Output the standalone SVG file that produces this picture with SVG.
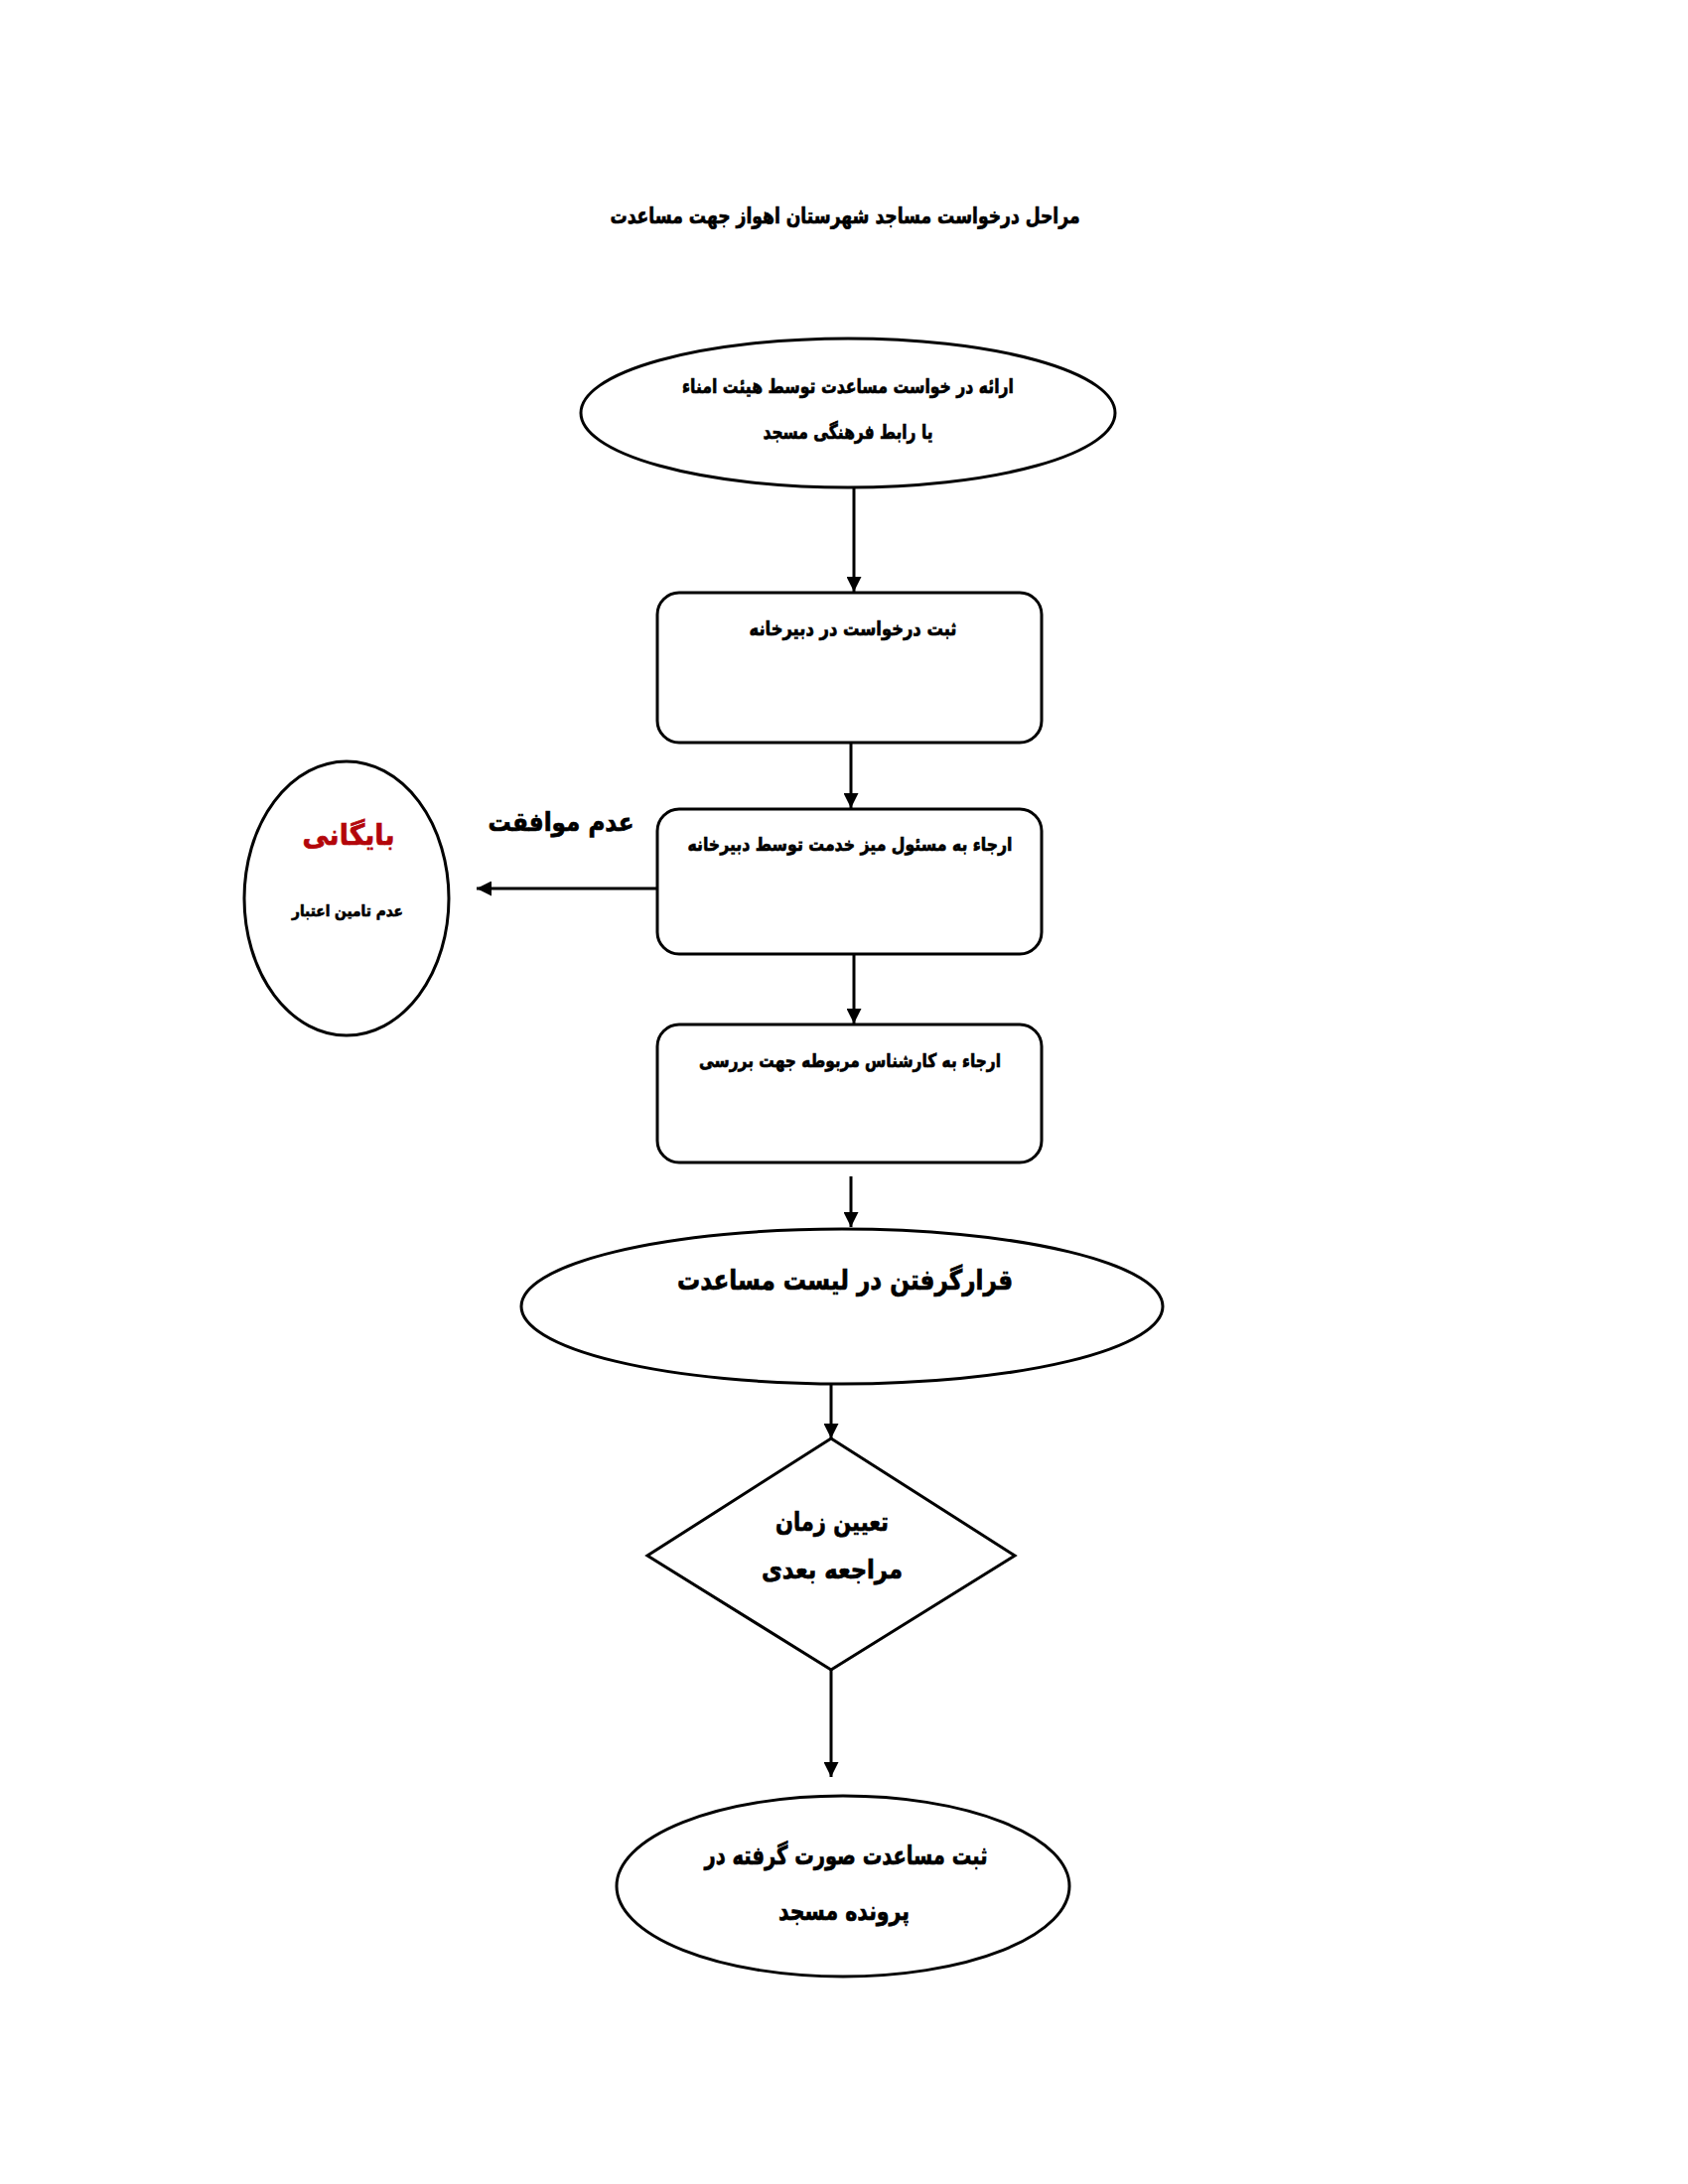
<svg xmlns="http://www.w3.org/2000/svg" width="1700" height="2200" viewBox="0 0 1700 2200">
<defs>
<marker id="arr" viewBox="0 0 10 10" refX="10" refY="5" markerWidth="5" markerHeight="5" orient="auto" markerUnits="strokeWidth">
<path d="M0,0 L10,5 L0,10 z" fill="#000"/>
</marker>
<style>
.shape{fill:#fff;stroke:#000;stroke-width:3}
.t{font-family:"DejaVu Sans",sans-serif;font-weight:bold;fill:#000;stroke:#000;stroke-width:0.7;text-anchor:middle}
.red{fill:#b3060a;stroke:#b3060a}
.conn line{stroke:#000;stroke-width:3;marker-end:url(#arr)}
</style>
</defs>
<rect width="1700" height="2200" fill="#fff"/>
<text class="t" x="851" y="225" font-size="22" direction="rtl" textLength="473" lengthAdjust="spacingAndGlyphs">مراحل درخواست مساجد  شهرستان اهواز جهت مساعدت</text>

<g id="connectors" class="conn">
<line x1="860" y1="491" x2="860" y2="596"/>
<line x1="857" y1="748" x2="857" y2="814"/>
<line x1="662" y1="895" x2="480" y2="895"/>
<line x1="860" y1="961" x2="860" y2="1031"/>
<line x1="857" y1="1185" x2="857" y2="1236"/>
<line x1="837" y1="1394" x2="837" y2="1449"/>
<line x1="837" y1="1682" x2="837" y2="1790"/>
</g>

<g id="n1">
<ellipse class="shape" cx="854" cy="416" rx="269" ry="75"/>
<text class="t" x="854" y="396" font-size="20" direction="rtl" textLength="334" lengthAdjust="spacingAndGlyphs">ارائه در خواست  مساعدت توسط هیئت امناء</text>
<text class="t" x="854" y="442" font-size="20" direction="rtl" textLength="171" lengthAdjust="spacingAndGlyphs">یا رابط فرهنگی مسجد</text>
</g>

<g id="n2">
<rect class="shape" x="662" y="597" width="387" height="151" rx="22"/>
<text class="t" x="859" y="640" font-size="20" direction="rtl" textLength="209" lengthAdjust="spacingAndGlyphs">ثبت درخواست در دبیرخانه</text>
</g>

<g id="n3">
<rect class="shape" x="662" y="815" width="387" height="146" rx="22"/>
<text class="t" x="856" y="857" font-size="19" direction="rtl" textLength="327" lengthAdjust="spacingAndGlyphs">ارجاء به مسئول میز خدمت توسط دبیرخانه</text>
</g>

<g id="label-reject">
<text class="t" x="565" y="837" font-size="26" direction="rtl" textLength="147" lengthAdjust="spacingAndGlyphs">عدم موافقت</text>
</g>

<g id="n-archive">
<ellipse class="shape" cx="349" cy="905" rx="103" ry="138"/>
<text class="t red" x="351" y="851" font-size="29" direction="rtl" textLength="93" lengthAdjust="spacingAndGlyphs">بایگانی</text>
<text class="t" x="350" y="923" font-size="16" direction="rtl" textLength="112" lengthAdjust="spacingAndGlyphs">عدم تامین اعتبار</text>
</g>

<g id="n4">
<rect class="shape" x="662" y="1032" width="387" height="139" rx="22"/>
<text class="t" x="856" y="1075" font-size="19" direction="rtl" textLength="304" lengthAdjust="spacingAndGlyphs">ارجاء به کارشناس مربوطه جهت بررسی</text>
</g>

<g id="n5">
<ellipse class="shape" cx="848" cy="1316" rx="323" ry="78"/>
<text class="t" x="851" y="1299" font-size="28" direction="rtl" textLength="338" lengthAdjust="spacingAndGlyphs">قرارگرفتن در لیست مساعدت</text>
</g>

<g id="n6">
<polygon class="shape" points="837,1449 1022,1567 837,1682 652,1567"/>
<text class="t" x="838" y="1542" font-size="26" direction="rtl" textLength="114" lengthAdjust="spacingAndGlyphs">تعیین زمان</text>
<text class="t" x="838" y="1590" font-size="26" direction="rtl" textLength="142" lengthAdjust="spacingAndGlyphs">مراجعه بعدی</text>
</g>

<g id="n7">
<ellipse class="shape" cx="849" cy="1900" rx="228" ry="91"/>
<text class="t" x="852" y="1878" font-size="26" direction="rtl" textLength="285" lengthAdjust="spacingAndGlyphs">ثبت مساعدت صورت گرفته در</text>
<text class="t" x="850" y="1934" font-size="26" direction="rtl" textLength="132" lengthAdjust="spacingAndGlyphs">پرونده مسجد</text>
</g>
</svg>
